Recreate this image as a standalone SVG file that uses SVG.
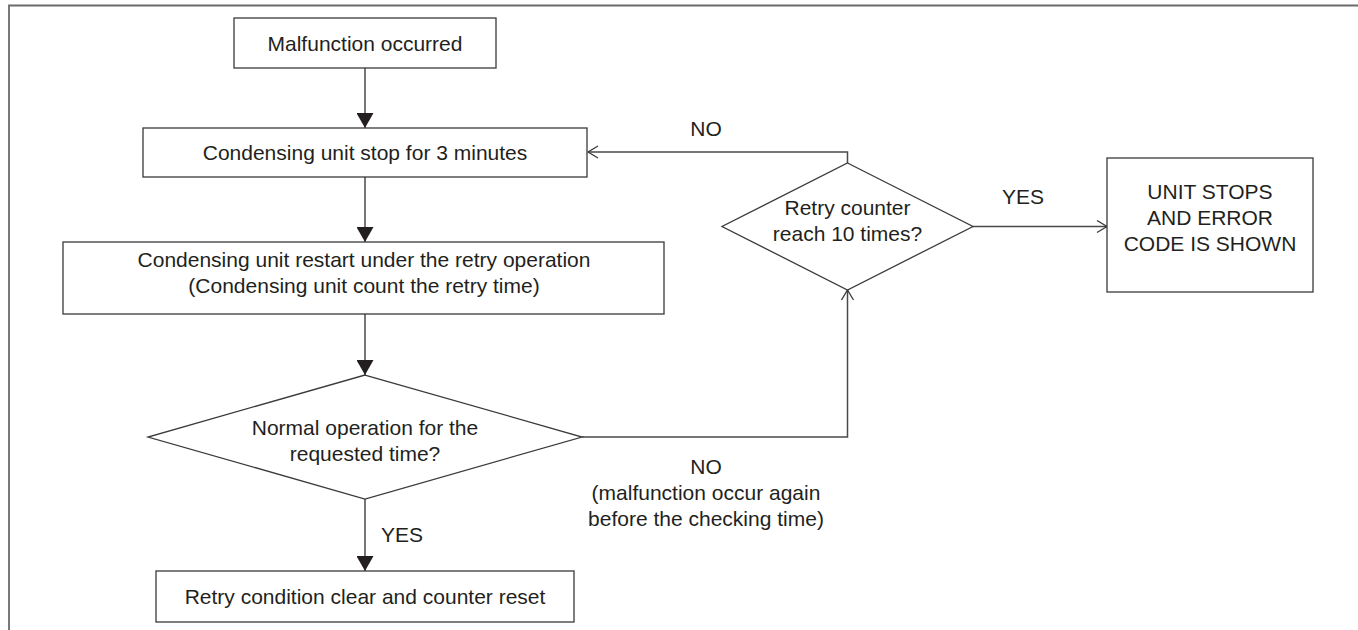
<svg xmlns="http://www.w3.org/2000/svg" width="1358" height="630" viewBox="0 0 1358 630">
  <style>
    .node { fill: #ffffff; stroke: #3a3a3a; stroke-width: 1.3; }
    .conn { fill: none; stroke: #4a4a4a; stroke-width: 1.5; }
    .frame { fill: none; stroke: #6a6a6a; stroke-width: 1.8; }
    text { font-family: "Liberation Sans", Arial, sans-serif; font-size: 21px; fill: #231f20; text-anchor: middle; }
  </style>
  <defs>
    <marker id="solid" markerUnits="userSpaceOnUse" markerWidth="17" markerHeight="17" refX="15" refY="8.5" orient="auto">
      <path d="M0,0 L15,8.5 L0,17 z" fill="#231f20"/>
    </marker>
    <marker id="open" markerUnits="userSpaceOnUse" markerWidth="14" markerHeight="14" refX="11" refY="7" orient="auto">
      <path d="M1,1 L11,7 L1,13" fill="none" stroke="#3a3a3a" stroke-width="1.3"/>
    </marker>
  </defs>
  <rect width="1358" height="630" fill="#ffffff"/>
  <path class="frame" d="M9,630 L9,5.5 L1358,5.5"/>

  <g id="connectors">
    <line class="conn" x1="365" y1="68" x2="365" y2="128" marker-end="url(#solid)"/>
    <line class="conn" x1="365" y1="177" x2="365" y2="242" marker-end="url(#solid)"/>
    <line class="conn" x1="365" y1="314" x2="365" y2="375" marker-end="url(#solid)"/>
    <line class="conn" x1="365" y1="499" x2="365" y2="571" marker-end="url(#solid)"/>
    <polyline class="conn" points="847.5,163 847.5,152 588,152" marker-end="url(#open)"/>
    <polyline class="conn" points="582,437 847.5,437 847.5,290" marker-end="url(#open)"/>
    <line class="conn" x1="973" y1="226.5" x2="1107" y2="226.5" marker-end="url(#open)"/>
    <text x="1023" y="204">YES</text>
    <text x="706" y="136">NO</text>
    <text x="402" y="542">YES</text>
    <text x="706" y="474">NO</text>
    <text x="706" y="500">(malfunction occur again</text>
    <text x="706" y="526">before the checking time)</text>
  </g>

  <g id="node-malfunction">
    <rect class="node" x="234" y="18" width="262" height="50"/>
    <text x="365" y="51">Malfunction occurred</text>
  </g>
  <g id="node-stop">
    <rect class="node" x="143" y="128" width="444" height="49"/>
    <text x="365" y="160">Condensing unit stop for 3 minutes</text>
  </g>
  <g id="node-restart">
    <rect class="node" x="63" y="242" width="601" height="72"/>
    <text x="364" y="267">Condensing unit restart under the retry operation</text>
    <text x="364" y="293">(Condensing unit count the retry time)</text>
  </g>
  <g id="node-normal">
    <polygon class="node" points="365,375 582,437 365,499 148,437"/>
    <text x="365" y="435">Normal operation for the</text>
    <text x="365" y="461">requested time?</text>
  </g>
  <g id="node-clear">
    <rect class="node" x="156" y="571" width="418" height="51"/>
    <text x="365" y="604">Retry condition clear and counter reset</text>
  </g>
  <g id="node-retry">
    <polygon class="node" points="847.5,163 973,226.5 847.5,290 722,226.5"/>
    <text x="847.5" y="215">Retry counter</text>
    <text x="847.5" y="241">reach 10 times?</text>
  </g>
  <g id="node-stops">
    <rect class="node" x="1107" y="158" width="206" height="134"/>
    <text x="1210" y="199">UNIT STOPS</text>
    <text x="1210" y="225">AND ERROR</text>
    <text x="1210" y="251">CODE IS SHOWN</text>
  </g>
</svg>
